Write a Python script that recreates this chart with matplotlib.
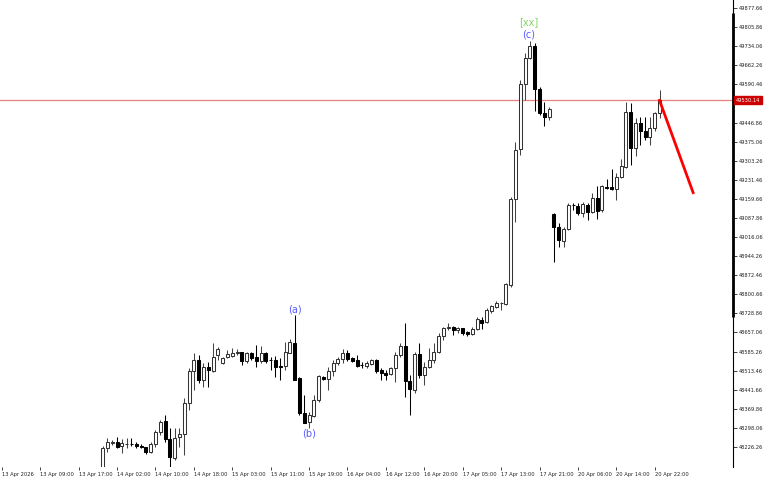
import matplotlib
matplotlib.use("Agg")
from matplotlib import pyplot as plt
from matplotlib import transforms
import numpy as np

# hourly bars, index 0 = 13 Apr 2026 01:00 (first drawn bar is 21)
first_bar = 21
opens = [
    48140, 48221, 48240, 48246, 48230, 48236, 48239, 48237, 48231, 48225,
    48208, 48236, 48284, 48324, 48256, 48186, 48263, 48275, 48391, 48512,
    48553, 48478, 48528, 48512, 48572, 48541, 48564, 48568, 48579, 48582,
    48551, 48579, 48564, 48551, 48581, 48555, 48553, 48530, 48531, 48581,
    48619, 48485, 48353, 48321, 48343, 48403, 48491, 48481, 48513, 48543,
    48556, 48581, 48560, 48553, 48536, 48531, 48538, 48553, 48516, 48503,
    48501, 48522, 48572, 48606, 48476, 48441, 48576, 48497, 48528, 48553,
    48585, 48644, 48674, 48677, 48666, 48673, 48659, 48651, 48669, 48704,
    48698, 48739, 48754, 48767, 48764, 48836, 49158, 49346, 49592, 49689,
    49735, 49572, 49484, 49469, 49103, 49054, 49002, 49046, 49137, 49133,
    49108, 49137, 49111, 49162, 49118, 49203, 49203, 49196, 49241, 49281,
    49488, 49350, 49446, 49416, 49394, 49425, 49482]
highs = [
    48230, 48259, 48253, 48265, 48256, 48259, 48259, 48246, 48236, 48227,
    48246, 48290, 48328, 48347, 48297, 48297, 48297, 48409, 48522, 48579,
    48572, 48541, 48547, 48616, 48604, 48566, 48591, 48597, 48594, 48585,
    48585, 48585, 48610, 48606, 48585, 48566, 48569, 48560, 48622, 48631,
    48723, 48488, 48422, 48359, 48422, 48497, 48493, 48528, 48553, 48566,
    48594, 48591, 48566, 48572, 48547, 48551, 48556, 48556, 48522, 48516,
    48528, 48585, 48619, 48692, 48497, 48585, 48616, 48547, 48597, 48619,
    48654, 48679, 48694, 48681, 48677, 48673, 48664, 48679, 48714, 48716,
    48748, 48760, 48777, 48773, 48843, 49168, 49375, 49607, 49707, 49755,
    49747, 49582, 49525, 49504, 49105, 49068, 49055, 49145, 49143, 49143,
    49149, 49143, 49181, 49208, 49212, 49233, 49271, 49258, 49309, 49525,
    49519, 49463, 49467, 49467, 49467, 49488, 49569]
lows = [
    48120, 48209, 48234, 48221, 48204, 48221, 48230, 48221, 48221, 48200,
    48203, 48227, 48271, 48246, 48150, 48177, 48227, 48196, 48365, 48441,
    48466, 48453, 48453, 48509, 48553, 48538, 48560, 48564, 48572, 48535,
    48541, 48553, 48528, 48541, 48541, 48516, 48491, 48478, 48516, 48579,
    48478, 48347, 48315, 48297, 48340, 48397, 48478, 48441, 48493, 48535,
    48541, 48551, 48547, 48528, 48522, 48522, 48535, 48503, 48478, 48478,
    48497, 48472, 48566, 48415, 48347, 48430, 48485, 48459, 48522, 48541,
    48579, 48629, 48666, 48648, 48656, 48648, 48644, 48648, 48666, 48669,
    48692, 48731, 48748, 48742, 48760, 48829, 49074, 49325, 49532, 49685,
    49491, 49475, 49434, 49456, 48923, 48980, 48980, 49043, 49118, 49099,
    49093, 49080, 49105, 49083, 49111, 49196, 49193, 49155, 49237, 49275,
    49287, 49321, 49362, 49381, 49362, 49416, 49463]
closes = [
    48221, 48246, 48244, 48227, 48240, 48239, 48237, 48230, 48225, 48209,
    48236, 48284, 48321, 48256, 48190, 48259, 48275, 48391, 48512, 48553,
    48478, 48528, 48516, 48566, 48594, 48560, 48576, 48581, 48585, 48551,
    48581, 48560, 48551, 48581, 48551, 48552, 48528, 48527, 48585, 48622,
    48478, 48353, 48318, 48347, 48403, 48493, 48481, 48513, 48543, 48556,
    48581, 48556, 48550, 48531, 48534, 48543, 48553, 48512, 48506, 48497,
    48522, 48572, 48606, 48476, 48443, 48576, 48497, 48528, 48553, 48585,
    48644, 48673, 48676, 48666, 48673, 48656, 48651, 48669, 48707, 48694,
    48742, 48757, 48767, 48768, 48839, 49158, 49344, 49592, 49689, 49735,
    49572, 49484, 49469, 49497, 49054, 49004, 49046, 49137, 49135, 49108,
    49140, 49111, 49162, 49115, 49208, 49202, 49196, 49241, 49283, 49488,
    49350, 49446, 49416, 49391, 49425, 49482, 49530.14]

bid_price = 49530.14

# projected move (red line)
proj_bars = [137, 144]
proj_prices = [49530.14, 49183]

# wave labels
wave_text = ["(a)", "(b)", "(c)", "[xx]"]
wave_bars = [61, 64, 110, 110]

price_ticks = [49877.66, 49805.86, 49734.06, 49662.26, 49590.46, 49518.66,
               49446.86, 49375.06, 49303.26, 49231.46, 49159.66, 49087.86,
               49016.06, 48944.26, 48872.46, 48800.66, 48728.86, 48657.06,
               48585.26, 48513.46, 48441.66, 48369.86, 48298.06, 48226.26]
price_tick_labels = ["%.2f" % p for p in price_ticks]

time_labels = ["13 Apr 2026", "13 Apr 09:00", "13 Apr 17:00", "14 Apr 02:00",
               "14 Apr 10:00", "14 Apr 18:00", "15 Apr 03:00", "15 Apr 11:00",
               "15 Apr 19:00", "16 Apr 04:00", "16 Apr 12:00", "16 Apr 20:00",
               "17 Apr 05:00", "17 Apr 13:00", "17 Apr 21:00", "20 Apr 06:00",
               "20 Apr 14:00", "20 Apr 22:00"]
time_ticks = np.arange(len(time_labels)) * 8

fig = plt.figure(figsize=(7.68, 4.8), dpi=100)
fig.patch.set_facecolor("white")
ax = fig.add_axes([0, 0.0278, 0.9544, 0.9722])

o = np.array(opens, dtype=float)
h = np.array(highs, dtype=float)
l = np.array(lows, dtype=float)
c = np.array(closes, dtype=float)
x = np.arange(first_bar, first_bar + len(o))

up = c >= o
# wicks first, bodies on top
ax.vlines(x[up], l[up], h[up], color="#444444", linewidth=0.75, zorder=2)
ax.vlines(x[~up], l[~up], h[~up], color="black", linewidth=0.75, zorder=2)
body_lo = np.minimum(o, c)
body_h = np.abs(c - o)
ax.bar(x[up], body_h[up], bottom=body_lo[up], width=0.62,
       facecolor="white", edgecolor="#333333", linewidth=0.75, zorder=3)
ax.bar(x[~up], body_h[~up], bottom=body_lo[~up], width=0.62,
       facecolor="black", edgecolor="black", linewidth=0.75, zorder=3)

# bid line
ax.axhline(bid_price, color="#e88080", linewidth=0.9, zorder=1)

# projection
ax.plot(proj_bars, proj_prices, color="#ff0000", linewidth=2.0, zorder=4)

# wave labels
blue = "#5a5aff"
green = "#86d36a"
i_a, i_b, i_c, i_xx = [w - first_bar for w in wave_bars]
ax.annotate(wave_text[0], (wave_bars[0], h[i_a]), xytext=(0, 0.5),
            textcoords="offset points", ha="center", va="bottom",
            color=blue, fontsize=7)
ax.annotate(wave_text[1], (wave_bars[1], l[i_b]), xytext=(0, -0.5),
            textcoords="offset points", ha="center", va="top",
            color=blue, fontsize=7)
ax.annotate(wave_text[2], (wave_bars[2], h[i_c]), xytext=(-1, 0.5),
            textcoords="offset points", ha="center", va="bottom",
            color=blue, fontsize=7)
ax.annotate(wave_text[3], (wave_bars[3], h[i_xx]), xytext=(-1, 10),
            textcoords="offset points", ha="center", va="bottom",
            color=green, fontsize=7)

ax.set_xlim(-0.375, 152.3)
ax.set_ylim(48152, 49907.8)

for s in ["top", "left", "bottom"]:
    ax.spines[s].set_visible(False)
ax.spines["right"].set_color("black")
ax.spines["right"].set_linewidth(0.8)
# darker band on the price scale edge
ax.plot([1.0, 1.0], [1 - 13 / 466.7, 1 - 317 / 466.7], transform=ax.transAxes,
        color="black", linewidth=2.0, clip_on=False, solid_capstyle="butt")

ax.yaxis.tick_right()
ax.set_yticks(price_ticks)
ax.set_yticklabels(price_tick_labels)
ax.tick_params(axis="y", direction="out", length=3, width=0.6, pad=1,
               labelsize=3.7, colors="#222222")

ax.set_xticks(time_ticks)
ax.set_xticklabels(time_labels, ha="left")
ax.tick_params(axis="x", direction="out", length=2.5, width=0.6, pad=1.5,
               labelsize=3.7, colors="#222222")

# bid price box on the scale
trans = transforms.blended_transform_factory(ax.transAxes, ax.transData)
ax.text(1.004, bid_price, "%.2f" % bid_price, transform=trans, ha="left",
        va="center", fontsize=3.7, color="white", zorder=6, clip_on=False,
        bbox=dict(boxstyle="square,pad=0.3", facecolor="#cc0000",
                  edgecolor="#cc0000"))

fig.savefig("out.png", dpi=100, facecolor="white")
